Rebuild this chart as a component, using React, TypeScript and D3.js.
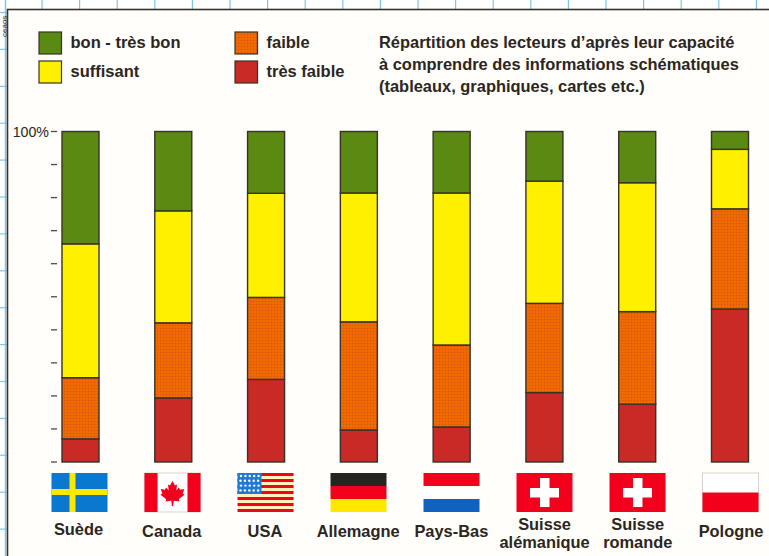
import * as d3 from "d3";

const W = 769;
const H = 556;

const countries = ["Suède", "Canada", "USA", "Allemagne", "Pays-Bas", "Suisse alémanique", "Suisse romande", "Pologne"];
const levels = ["tresFaible", "faible", "suffisant", "bon"];

const tresFaible = [7, 19.4, 25, 9.7, 10.6, 21, 17.5, 46.3];
const faible = [18.5, 22.7, 24.8, 32.7, 24.8, 27, 28, 30.3];
const suffisant = [40.5, 33.9, 31.5, 39, 46, 37, 39, 18];
const bon = [34, 24, 18.7, 18.6, 18.6, 15, 15.5, 5.4];

const legendLabels = ["bon - très bon", "suffisant", "faible", "très faible"];
const titleLines = [
  "Répartition des lecteurs d’après leur capacité",
  "à comprendre des informations schématiques",
  "(tableaux, graphiques, cartes etc.)",
];
const colors: Record<string, string> = {
  bon: "#5a8a12",
  suffisant: "#fff000",
  faible: "url(#dots)",
  tresFaible: "#c92a26",
};
const legendColors = ["#5a8a12", "#fff000", "url(#dots)", "#c92a26"];

const LINE = "#3a3128";
const FONT = "'Liberation Sans', Arial, sans-serif";

const rows = countries.map((c, i) => ({
  country: c,
  tresFaible: tresFaible[i],
  faible: faible[i],
  suffisant: suffisant[i],
  bon: bon[i],
}));

// maple leaf in a box of -10..10
const LEAF =
  "M0,-10 L2,-6.4 L3.6,-7.2 L3,-2.4 L5.2,-4.8 L6,-3 L9.4,-3.6 L8.2,0 L9.6,1 L5,4.6 L5.6,6.4 L1,5.8 L0.5,10 L-0.5,10 L-1,5.8 L-5.6,6.4 L-5,4.6 L-9.6,1 L-8.2,0 L-9.4,-3.6 L-6,-3 L-5.2,-4.8 L-3,-2.4 L-3.6,-7.2 L-2,-6.4 Z";

function Flag({ name, x, y, w, h }: { name: string; x: number; y: number; w: number; h: number }) {
  const red = "#f2001c";
  const bands = (cols: string[]) =>
    cols.map((c, i) => <rect key={i} x={x} y={y + (i * h) / cols.length} width={w} height={h / cols.length} fill={c} />);

  if (name === "Suède")
    return (
      <g>
        <rect x={x} y={y} width={w} height={h} fill="#0a78cf" />
        <rect x={x + 18} y={y} width={6} height={h} fill="#ffe800" />
        <rect x={x} y={y + 16} width={w} height={6} fill="#ffe800" />
      </g>
    );
  if (name === "Canada")
    return (
      <g>
        <rect x={x} y={y} width={w} height={h} fill="#fff" stroke="#d8c8c0" strokeWidth={0.8} />
        <rect x={x} y={y} width={13} height={h} fill={red} />
        <rect x={x + w - 13} y={y} width={13} height={h} fill={red} />
        <path d={LEAF} transform={`translate(${x + w / 2},${y + h / 2 + 1}) scale(1.25)`} fill={red} />
      </g>
    );
  if (name === "USA") {
    const stripes = d3.range(13);
    const sh = h / 13;
    return (
      <g>
        {stripes.map((i) => (
          <rect key={i} x={x} y={y + i * sh} width={w} height={sh} fill={i % 2 ? "#fff3b8" : red} />
        ))}
        <rect x={x} y={y} width={24} height={21} fill="#1f7ad2" />
        {d3.range(4).map((r) =>
          d3.range(5).map((c) => (
            <circle key={`${r}-${c}`} cx={x + 3 + c * 4.4 + (r % 2 ? 0 : 0.5)} cy={y + 3 + r * 4.8} r={1.2} fill="#fff" />
          )),
        )}
      </g>
    );
  }
  if (name === "Allemagne") return <g>{bands(["#2a2420", "#f2001c", "#ffe800"])}</g>;
  if (name === "Pays-Bas") return <g>{bands(["#f2001c", "#ffffff", "#0f62c0"])}</g>;
  if (name === "Pologne")
    return (
      <g>
        <rect x={x} y={y} width={w} height={h} fill="#fff" stroke="#d8c8c0" strokeWidth={0.8} />
        <rect x={x} y={y + 19.5} width={w} height={h - 19.5} fill={red} />
      </g>
    );
  // les deux Suisse
  return (
    <g>
      <rect x={x} y={y} width={w} height={h} fill={red} />
      <rect x={x + 13.5} y={y + 15} width={29} height={9.5} fill="#fff" />
      <rect x={x + 23.5} y={y + 5} width={9.5} height={29} fill="#fff" />
    </g>
  );
}

export default function App() {
  const y = d3.scaleLinear().domain([0, 100]).range([462, 131.5]);
  const x = d3.scalePoint<string>().domain(countries).range([80.5, 730]);
  const flagX = d3.scalePoint<string>().domain(countries).range([79.5, 730.5]);
  const labelX = d3.scalePoint<string>().domain(countries).range([78.5, 731]);
  const barW = 37;

  const series = d3.stack<any>().keys(levels)(rows);
  const ticks = y.ticks(10);

  return (
    <svg
      width={W}
      height={H}
      viewBox={`0 0 ${W} ${H}`}
      style={{ position: "absolute", left: 0, top: 0, background: "#ffffff" }}
      fontFamily={FONT}
    >
      <defs>
        <pattern id="dots" width={3} height={3} patternUnits="userSpaceOnUse">
          <rect width={3} height={3} fill="#f06a00" />
          <circle cx={1.5} cy={1.5} r={0.7} fill="#d8500c" />
        </pattern>
      </defs>

      {/* quadrillage du papier */}
      <line x1={5.5} x2={5.5} y1={0} y2={H} stroke="#7cc6ec" strokeWidth={1.5} />
      {d3.range(42, W, 37.6).map((gx) => (
        <line key={gx} x1={gx} x2={gx} y1={0} y2={9} stroke="#7cc6ec" strokeWidth={1.2} />
      ))}
      {d3.range(12.5, H, 36.9).map((gy) => (
        <line key={gy} x1={0} x2={7} y1={gy} y2={gy} stroke="#7cc6ec" strokeWidth={1.2} />
      ))}
      <text transform="translate(6.5,37) rotate(-90)" fontSize={8} fill="#333">ceaos</text>

      {/* cadre */}
      <rect x={7.5} y={9.5} width={W} height={H} fill="#fffefa" stroke={LINE} strokeWidth={1.6} />

      {/* légende */}
      {legendLabels.map((l, i) => {
        const lx = i < 2 ? 39 : 235;
        const ly = i % 2 === 0 ? 32 : 61;
        return (
          <g key={l}>
            <rect x={lx} y={ly} width={22.5} height={22} fill={legendColors[i]} stroke={LINE} strokeWidth={1.2} />
            <text x={lx + 31.5} y={ly + 15.5} fontSize={16.5} fontWeight={700} fill="#2b2622">
              {l}
            </text>
          </g>
        );
      })}

      {/* titre */}
      {titleLines.map((t, i) => (
        <text key={t} x={379} y={47.5 + i * 22} fontSize={16.45} fontWeight={700} fill="#2b2622">
          {t}
        </text>
      ))}

      {/* axe */}
      {ticks.map((t) => (
        <line key={t} x1={51} x2={57} y1={y(t)} y2={y(t)} stroke="#4a4a48" strokeWidth={1.3} />
      ))}
      <text x={49} y={y(100) + 5.5} textAnchor="end" fontSize={14.2} fill="#2b2622">
        100%
      </text>

      {/* barres */}
      {series.map((s) => (
        <g key={s.key}>
          {s.map((d) => (
            <rect
              key={d.data.country}
              x={x(d.data.country)! - barW / 2}
              y={y(d[1])}
              width={barW}
              height={y(d[0]) - y(d[1])}
              fill={colors[s.key]}
              stroke={LINE}
              strokeWidth={1.4}
            />
          ))}
        </g>
      ))}

      {/* drapeaux */}
      {countries.map((c) => (
        <Flag key={c} name={c} x={flagX(c)! - 28} y={473} w={56} h={39} />
      ))}

      {/* noms */}
      {countries.map((c) => {
        const parts = c.startsWith("Suisse") ? c.split(" ") : [c];
        const base = parts.length > 1 ? 530 : c === "Suède" ? 535 : 537;
        return (
          <text key={c} textAnchor="middle" fontSize={16.4} fontWeight={700} fill="#2b2622">
            {parts.map((p, i) => (
              <tspan key={p} x={labelX(c)} y={base + i * 18}>
                {p}
              </tspan>
            ))}
          </text>
        );
      })}
    </svg>
  );
}
